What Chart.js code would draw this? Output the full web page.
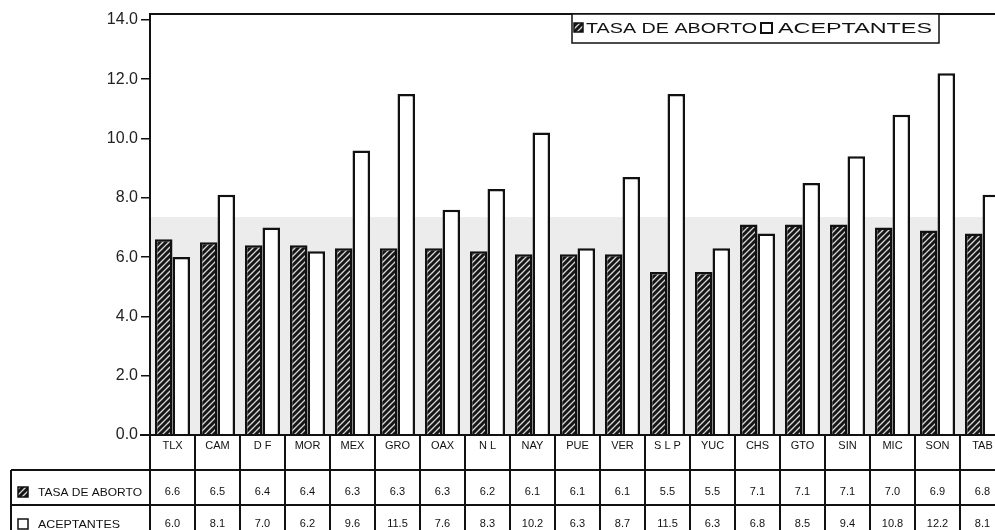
<!DOCTYPE html>
<html>
<head>
<meta charset="utf-8">
<script src="https://cdn.jsdelivr.net/npm/chart.js@4.4.0/dist/chart.umd.min.js"></script>
<style>
  html, body { margin: 0; padding: 0; background: #fff; overflow: hidden; }
  #wrap { width: 1010px; height: 530px; }
</style>
</head>
<body>
<div id="wrap"><canvas id="chart" width="1010" height="530"></canvas></div>
<script>
// Data
var estados = ['TLX','CAM','D F','MOR','MEX','GRO','OAX','N L','NAY','PUE','VER','S L P','YUC','CHS','GTO','SIN','MIC','SON','TAB'];
var tasaAborto = [6.6, 6.5, 6.4, 6.4, 6.3, 6.3, 6.3, 6.2, 6.1, 6.1, 6.1, 5.5, 5.5, 7.1, 7.1, 7.1, 7.0, 6.9, 6.8];
var aceptantes = [6.0, 8.1, 7.0, 6.2, 9.6, 11.5, 7.6, 8.3, 10.2, 6.3, 8.7, 11.5, 6.3, 6.8, 8.5, 9.4, 10.8, 12.2, 8.1];
var yTicks = [0, 2, 4, 6, 8, 10, 12, 14];
var serieNames = ['TASA DE ABORTO', 'ACEPTANTES'];

var FONT = '"Liberation Sans", Arial, sans-serif';

// hatch pattern for the dark bars
function makeHatch() {
    var c = document.createElement('canvas');
    c.width = 6; c.height = 6;
    var x = c.getContext('2d');
    x.fillStyle = '#d8d8d8';
    x.fillRect(0, 0, 6, 6);
    x.strokeStyle = '#161616';
    x.lineWidth = 3;
    x.beginPath();
    x.moveTo(-1, 7); x.lineTo(7, -1);
    x.moveTo(-4, 4); x.lineTo(4, -4);
    x.moveTo(2, 10); x.lineTo(10, 2);
    x.stroke();
    return x.createPattern(c, 'repeat');
}
var hatch = makeHatch();

// stretch text to a target width
function fitText(ctx, txt, x, y, w) {
    var m = ctx.measureText(txt).width;
    ctx.save();
    ctx.translate(x, y);
    ctx.scale(w / m, 1);
    ctx.fillText(txt, 0, 0);
    ctx.restore();
}

var decorPlugin = {
    id: 'decor',
    beforeDatasetsDraw: function(chart) {
        var c = chart.ctx, a = chart.chartArea, y = chart.scales.y;
        // light grey band of the scan
        var top = y.getPixelForValue(7.35);
        c.save();
        c.fillStyle = '#ececec';
        c.fillRect(a.left + 1, top, a.right - a.left, a.bottom - top);
        c.restore();
    },
    afterDraw: function(chart) {
        var c = chart.ctx, a = chart.chartArea, x = chart.scales.x;
        var colW = (a.right - a.left) / estados.length;
        c.save();
        c.strokeStyle = '#111';
        // top border of the plot
        c.lineWidth = 2;
        c.beginPath(); c.moveTo(a.left, a.top); c.lineTo(a.right, a.top); c.stroke();
        // baseline
        c.beginPath(); c.moveTo(a.left - 10, a.bottom); c.lineTo(a.right, a.bottom); c.stroke();

        // data table
        var hTop = a.bottom, hBot = 470, r1Bot = 505, r2Bot = 540, tLeft = 11;
        c.lineWidth = 2;
        c.beginPath();
        c.moveTo(tLeft, hBot); c.lineTo(a.right, hBot);
        c.moveTo(tLeft, r1Bot); c.lineTo(a.right, r1Bot);
        c.moveTo(tLeft, hBot); c.lineTo(tLeft, r2Bot);
        for (var i = 0; i <= estados.length; i++) {
            var bx = a.left + i * colW;
            c.moveTo(bx, hTop); c.lineTo(bx, r2Bot);
        }
        c.stroke();

        c.fillStyle = '#111';
        c.font = '11px ' + FONT;
        c.textAlign = 'center';
        c.textBaseline = 'middle';
        for (var j = 0; j < estados.length; j++) {
            var cx = x.getPixelForValue(j);
            c.fillText(estados[j], cx, 446);
            c.fillText(tasaAborto[j].toFixed(1), cx, 492);
            c.fillText(aceptantes[j].toFixed(1), cx, 524);
        }
        c.textAlign = 'left';
        fitText(c, serieNames[0], 38, 493, 104);
        fitText(c, serieNames[1], 38, 525, 82);
        // row icons
        c.fillStyle = hatch;
        c.fillRect(18, 487, 10, 10);
        c.lineWidth = 1.5;
        c.strokeRect(18, 487, 10, 10);
        c.fillStyle = '#fff';
        c.fillRect(18, 519, 10, 10);
        c.strokeRect(18, 519, 10, 10);

        // legend box
        c.fillStyle = '#fff';
        c.fillRect(572, 14, 367, 29);
        c.lineWidth = 1.5;
        c.strokeRect(572, 14, 367, 29);
        c.fillStyle = hatch;
        c.fillRect(574, 23, 9, 9);
        c.strokeRect(574, 23, 9, 9);
        c.fillStyle = '#fff';
        c.fillRect(761, 23, 11, 10);
        c.lineWidth = 2;
        c.strokeRect(761, 23, 11, 10);
        c.fillStyle = '#111';
        c.strokeStyle = '#111';
        c.lineWidth = 0.4;
        c.font = '15px ' + FONT;
        c.textBaseline = 'middle';
        fitText(c, serieNames[0], 586, 29, 171);
        fitText(c, serieNames[1], 778, 29, 154);
        c.restore();
    }
};

new Chart(document.getElementById('chart'), {
    type: 'bar',
    data: {
        labels: estados,
        datasets: [{
            label: serieNames[0],
            data: tasaAborto,
            backgroundColor: hatch,
            borderColor: '#111',
            borderWidth: 2.5,
            borderSkipped: 'bottom',
            categoryPercentage: 0.78,
            barPercentage: 1
        }, {
            label: serieNames[1],
            data: aceptantes,
            backgroundColor: '#ffffff',
            borderColor: '#111',
            borderWidth: 2.5,
            borderSkipped: 'bottom',
            categoryPercentage: 0.78,
            barPercentage: 1
        }]
    },
    options: {
        responsive: false,
        animation: false,
        devicePixelRatio: 1,
        layout: { padding: { top: 14, right: 5, bottom: 95, left: 0 } },
        scales: {
            x: { display: false },
            y: {
                min: 0,
                max: 14.2,
                afterBuildTicks: function(s) { s.ticks = yTicks.map(function(v) { return { value: v }; }); },
                afterFit: function(s) { s.width = 150; },
                border: { color: '#111', width: 2 },
                grid: { drawOnChartArea: false, color: '#111', tickLength: 9, lineWidth: 1.5 },
                ticks: {
                    color: '#222',
                    padding: 3,
                    font: { family: FONT, size: 16 },
                    callback: function(v) { return v.toFixed(1); }
                }
            }
        },
        plugins: {
            legend: { display: false },
            tooltip: { enabled: false }
        }
    },
    plugins: [decorPlugin]
});
</script>
</body>
</html>
